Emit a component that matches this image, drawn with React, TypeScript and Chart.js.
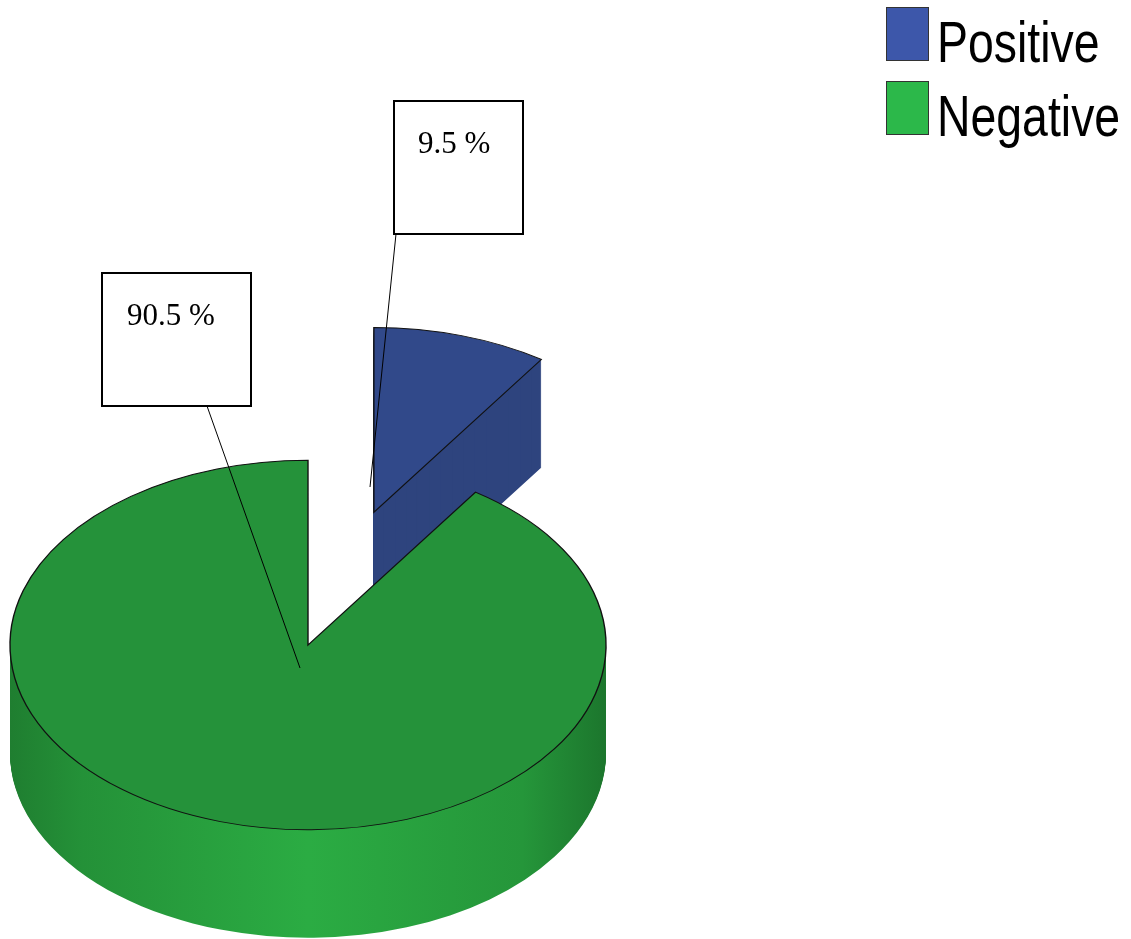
import React, { useEffect, useRef } from "react";
import { Chart, registerables } from "chart.js";

Chart.register(...registerables);

const labels = ["Positive", "Negative"];
const values = [9.5, 90.5];
const valueTexts = ["9.5 %", "90.5 %"];
const topColors = ["#31498a", "#25923a"];
const legendColors = ["#3d57aa", "#2cb84a"];
const explodeDist = [224, 0];

const W = 1131;
const H = 939;
const TILT = 0.62;
const DEPTH = 108;

// label boxes: [left, top, width, height], text left/baseline, leader line start/end
const labelBoxes = [
  { box: [394, 101, 129, 133], text: [418, 153], line: [396, 234, 370, 487] },
  { box: [102, 273, 149, 133], text: [127, 325], line: [207, 406, 300, 668] },
];

const pie3d = {
  id: "pie3d",
  beforeDatasetsDraw(chart: any) {
    const ctx = chart.ctx as CanvasRenderingContext2D;
    const meta = chart.getDatasetMeta(0);
    const greenGrad = ctx.createLinearGradient(10, 0, 606, 0);
    greenGrad.addColorStop(0, "rgb(31,126,48)");
    greenGrad.addColorStop(0.12, "rgb(36,145,56)");
    greenGrad.addColorStop(0.5, "rgb(43,172,67)");
    greenGrad.addColorStop(0.86, "rgb(37,150,58)");
    greenGrad.addColorStop(1, "rgb(28,118,45)");
    const sideFills: any[] = ["#2e447e", greenGrad];
    for (let i = 0; i < meta.data.length; i++) {
      const el: any = meta.data[i];
      const mid = (el.startAngle + el.endAngle) / 2;
      const ox = Math.cos(mid) * explodeDist[i];
      const oy = Math.sin(mid) * explodeDist[i];
      const saved = el.options;
      for (let d = DEPTH; d >= 1; d -= 1) {
        ctx.save();
        ctx.translate(el.x + ox, el.y + oy * TILT + d);
        ctx.scale(1, TILT);
        ctx.translate(-el.x, -el.y);
        el.options = { ...saved, backgroundColor: sideFills[i], borderWidth: 0 };
        el.draw(ctx);
        ctx.restore();
      }
      ctx.save();
      ctx.translate(el.x + ox, el.y + oy * TILT);
      ctx.scale(1, TILT);
      ctx.translate(-el.x, -el.y);
      el.options = { ...saved, backgroundColor: topColors[i], borderColor: "#111", borderWidth: 1.4, borderJoinStyle: "miter" };
      el.draw(ctx);
      ctx.restore();
      el.options = saved;
    }
    return false;
  },
  afterDraw(chart: any) {
    const ctx = chart.ctx as CanvasRenderingContext2D;
    // leader lines and label boxes
    ctx.save();
    for (let i = 0; i < labelBoxes.length; i++) {
      const lb = labelBoxes[i];
      ctx.strokeStyle = "#000";
      ctx.lineWidth = 1;
      ctx.beginPath();
      ctx.moveTo(lb.line[0], lb.line[1]);
      ctx.lineTo(lb.line[2], lb.line[3]);
      ctx.stroke();
      ctx.fillStyle = "#fff";
      ctx.fillRect(lb.box[0], lb.box[1], lb.box[2], lb.box[3]);
      ctx.lineWidth = 2;
      ctx.strokeStyle = "#000";
      ctx.strokeRect(lb.box[0], lb.box[1], lb.box[2], lb.box[3]);
      ctx.fillStyle = "#000";
      ctx.font = '31px "Liberation Serif", "Times New Roman", serif';
      ctx.textBaseline = "alphabetic";
      ctx.textAlign = "left";
      ctx.fillText(valueTexts[i], lb.text[0], lb.text[1]);
    }
    // legend
    const legendTop = [7, 81];
    for (let i = 0; i < labels.length; i++) {
      ctx.fillStyle = legendColors[i];
      ctx.fillRect(886, legendTop[i], 43, 54);
      ctx.strokeStyle = "#333";
      ctx.lineWidth = 1;
      ctx.strokeRect(886.5, legendTop[i] + 0.5, 42, 53);
      ctx.save();
      ctx.translate(937, legendTop[i] + 55);
      ctx.scale(0.8, 1);
      ctx.fillStyle = "#000";
      ctx.font = '58px "Liberation Sans", Arial, sans-serif';
      ctx.textBaseline = "alphabetic";
      ctx.fillText(labels[i], 0, 0);
      ctx.restore();
    }
    ctx.restore();
  },
};

export default function App() {
  const ref = useRef<HTMLCanvasElement | null>(null);
  useEffect(() => {
    if (!ref.current) return;
    const chart = new Chart(ref.current, {
      type: "pie",
      data: {
        labels,
        datasets: [
          {
            data: values,
            backgroundColor: topColors,
            borderColor: "#111",
            borderWidth: 1,
          },
        ],
      },
      options: {
        responsive: false,
        animation: false,
        radius: 298,
        layout: { padding: { left: 10, right: 525, top: 460, bottom: 109 } },
        plugins: {
          legend: { display: false },
          tooltip: { enabled: false },
        },
      } as any,
      plugins: [pie3d],
    });
    return () => chart.destroy();
  }, []);
  return (
    <div style={{ position: "fixed", left: 0, top: 0, width: W, height: H, background: "#fff" }}>
      <canvas ref={ref} width={W} height={H} style={{ width: W, height: H, display: "block" }} />
    </div>
  );
}
